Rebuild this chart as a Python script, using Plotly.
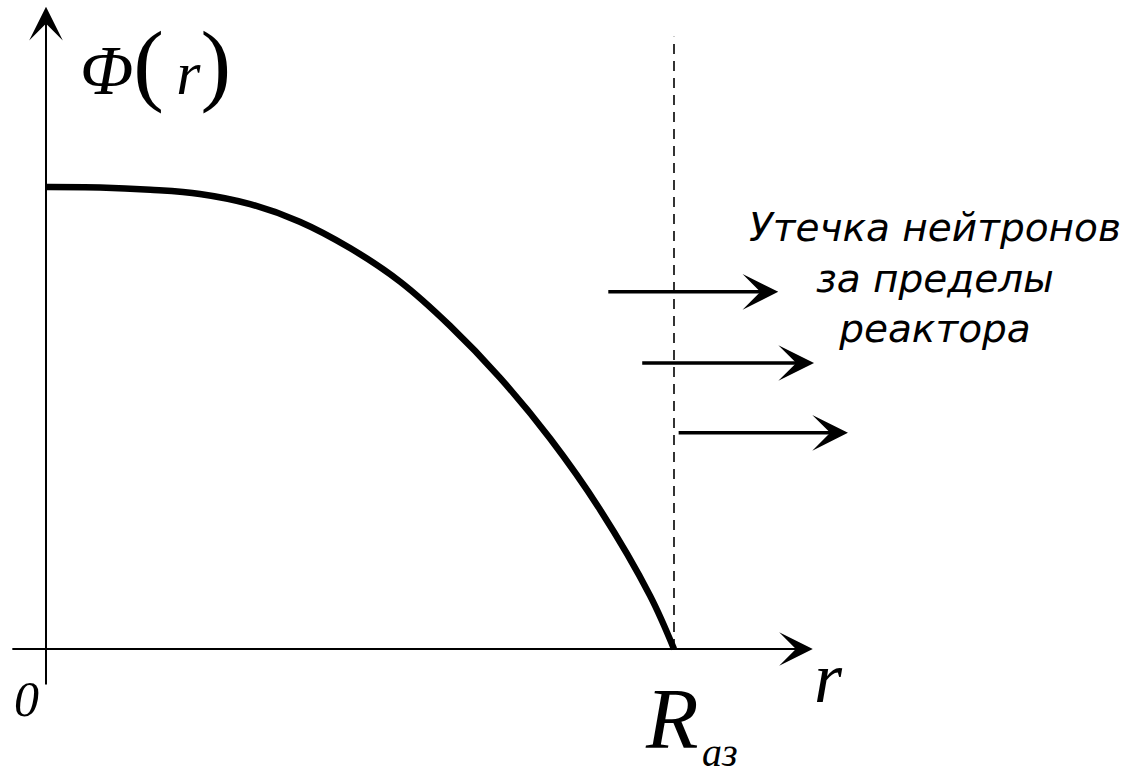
import plotly.graph_objects as go

# flux profile, r / R_az  vs  Phi / Phi_max
r_rel = [0.0, 0.086, 0.166, 0.245, 0.325, 0.404, 0.484, 0.564, 0.643, 0.723, 0.803, 0.882, 0.962, 1.0]
phi_rel = [1.0, 0.999, 0.994, 0.985, 0.963, 0.925, 0.868, 0.795, 0.700, 0.587, 0.455, 0.302, 0.115, 0.0]

leak_lines = ["Утечка нейтронов", "за пределы", "реактора"]

W, H = 1137, 776
X0, XR = 46, 628      # pixel of r=0, pixels per R
Y0, YS = 649, 462     # pixel of Phi=0, pixels per Phi_max

fig = go.Figure()

fig.add_trace(go.Scatter(
    x=r_rel, y=phi_rel, mode="lines",
    line={"color": "black", "width": 6.5, "shape": "spline", "smoothing": 1.0},
    hoverinfo="skip",
))

# boundary of the core
fig.add_trace(go.Scatter(
    x=[r_rel[-1], r_rel[-1]], y=[0, 1.325], mode="lines",
    line={"color": "black", "width": 1.6, "dash": "10px,7px"},
    hoverinfo="skip",
))


def arrow(x0, y0, x1, y1, width, size):
    fig.add_annotation(
        x=x1, y=y1, ax=x0, ay=y0, xref="x", yref="y", axref="x", ayref="y",
        text="", showarrow=True, arrowhead=3, arrowwidth=width, arrowsize=size,
        arrowcolor="black", standoff=0,
    )


# axes
arrow(-0.056, 0, 1.221, 0, 2, 2.8)
arrow(0, -0.080, 0, 1.39, 2, 2.8)

# leakage arrows
arrow(0.893, 0.773, 1.166, 0.773, 3.5, 1.7)
arrow(0.947, 0.619, 1.223, 0.619, 3.5, 1.7)
arrow(1.005, 0.468, 1.277, 0.468, 3.5, 1.7)


def label(text, px, py, size, family="Liberation Serif", xanchor="center", italic=True):
    fig.add_annotation(
        x=px / W, y=1 - py / H, xref="paper", yref="paper", text=text,
        showarrow=False, xanchor=xanchor, yanchor="middle",
        font={"family": family, "size": size, "color": "black",
              "style": "italic" if italic else "normal"},
    )


paren = "<span style='font-size:92px;font-style:normal'>%s</span>"
label("Φ" + paren % "(" + "<span style='font-size:62px'>\u2009r</span>" + paren % ")", 78, 63, 70, xanchor="left")
label("0", 27, 699, 50)
label("r", 828, 678, 72)
label("R", 672, 719, 86)
label("аз", 720, 752, 40)
label("<br>".join(leak_lines), 935, 278, 39, family="DejaVu Sans")

fig.update_layout(
    width=W, height=H,
    margin={"l": 0, "r": 0, "t": 0, "b": 0},
    paper_bgcolor="white", plot_bgcolor="white",
    showlegend=False,
    xaxis={"range": [-X0 / XR, (W - X0) / XR], "visible": False, "fixedrange": True},
    yaxis={"range": [(Y0 - H) / YS, Y0 / YS], "visible": False, "fixedrange": True},
)

fig.write_html("out.html", config={"displayModeBar": False},
               post_script="document.body.style.margin='0px';")
